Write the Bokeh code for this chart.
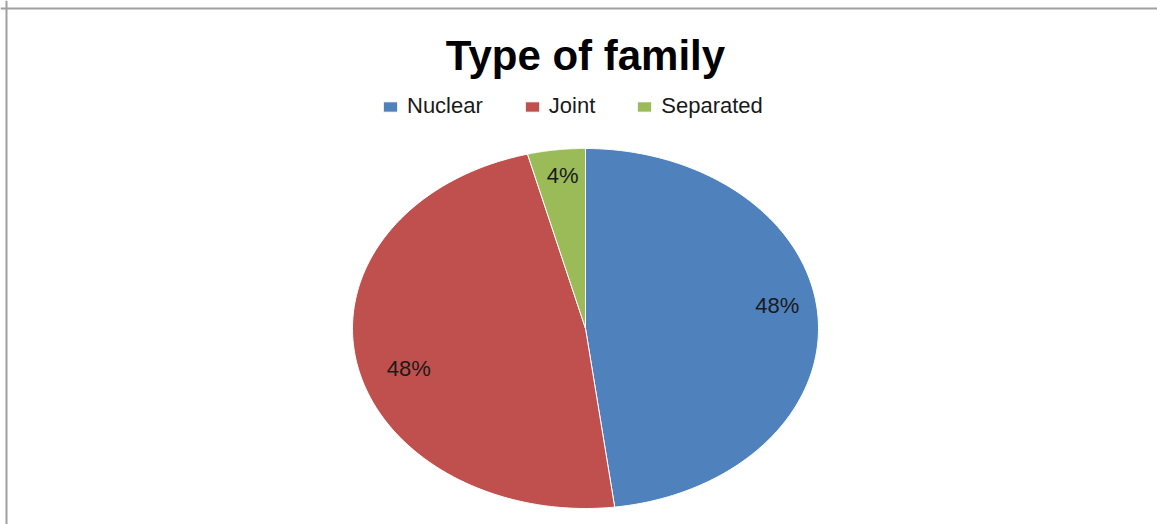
import numpy as np
from bokeh.plotting import figure
from bokeh.models import Range1d, Span, Legend, LegendItem, Label, ColumnDataSource
from bokeh.embed import file_html
from bokeh.resources import INLINE

# ---- data ----
categories = ["Nuclear", "Joint", "Separated"]
values = [48, 48, 4]
labels = ["48%", "48%", "4%"]
colors = ["#4F81BD", "#C0504D", "#9BBB59"]
title_text = "Type of family"

W, H = 1157, 524
CX, CY, RX, RY = 585, 328, 233, 180  # pie centre / radii in pixels
# label placement tweaks (pixels) relative to the slice mid-point at 0.82 radius
label_dx = [1, 11, 1]
label_dy = [14, -12, 7]


def dx(px):
    return (px - CX) / RX


def dy(py):
    return (CY - py) / RY


p = figure(width=W, height=H, output_backend="svg", toolbar_location=None,
           x_axis_location=None, y_axis_location=None, min_border=0,
           x_range=Range1d(dx(0), dx(W)), y_range=Range1d(dy(H), dy(0)),
           outline_line_color=None, background_fill_color="white")
p.xgrid.visible = False
p.ygrid.visible = False

total = float(sum(values))
fracs = np.cumsum([0] + values) / total
renderers = []
for i, cat in enumerate(categories):
    a0, a1 = fracs[i] * 2 * np.pi, fracs[i + 1] * 2 * np.pi
    th = np.linspace(a0, a1, 200)
    xs = np.concatenate([[0], np.sin(th), [0]])
    ys = np.concatenate([[0], np.cos(th), [0]])
    src = ColumnDataSource(dict(xs=[list(xs)], ys=[list(ys)]))
    r = p.patches("xs", "ys", source=src, fill_color=colors[i],
                  line_color="white", line_width=1)
    renderers.append(r)
    mid = (a0 + a1) / 2
    rr = 0.82
    p.add_layout(Label(x=rr * np.sin(mid), y=rr * np.cos(mid), text=labels[i],
                       x_offset=label_dx[i], y_offset=label_dy[i],
                       text_align="center", text_baseline="middle",
                       text_font="Liberation Sans", text_font_size="22px",
                       text_color="#1a1a1a"))

p.add_layout(Label(x=dx(585), y=dy(55), text=title_text, text_align="center",
                   text_baseline="middle", text_font="Liberation Sans",
                   text_font_size="42px", text_font_style="bold",
                   text_color="black"))

legend = Legend(items=[LegendItem(label=c, renderers=[r]) for c, r in zip(categories, renderers)],
                orientation="horizontal", location=(381, 405),
                glyph_width=18, glyph_height=13, label_height=22,
                label_standoff=8, spacing=40, padding=0, margin=0,
                label_text_font="Liberation Sans", label_text_font_size="22px",
                label_text_color="#1a1a1a", border_line_color=None,
                background_fill_alpha=0)
p.add_layout(legend)

p.add_layout(Span(location=dx(6), dimension="height", line_color="#a0a0a0", line_width=2))
p.add_layout(Span(location=dy(8), dimension="width", line_color="#a0a0a0", line_width=2))

open("out.html", "w").write(file_html(p, INLINE))
